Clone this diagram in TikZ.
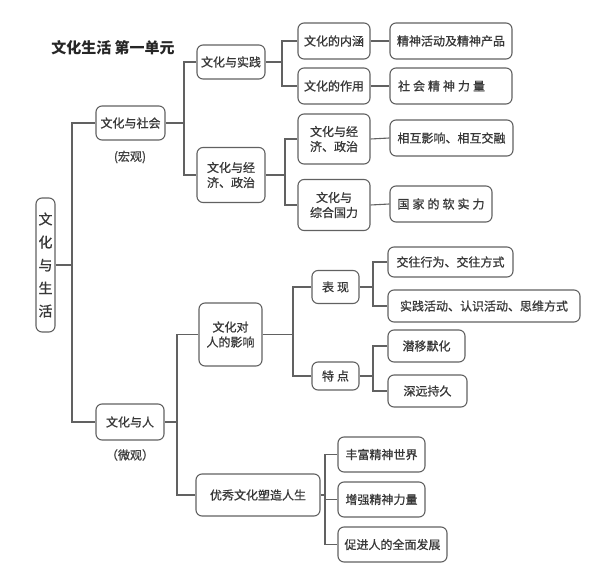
\documentclass[tikz,border=0pt]{standalone}
\usepackage{fontspec}
\setmainfont{Noto Sans CJK SC}
\newfontfamily\boxfont[FakeBold=0.9]{Noto Sans CJK SC}
\begin{document}
\begin{tikzpicture}[x=1pt,y=-1pt,
  box/.style={draw=black!62, line width=1.1pt, rounded corners=6pt, inner sep=2pt,
    text=black!78, font=\boxfont\fontsize{12}{15}\selectfont, align=center},
  link/.style={draw=black!62, line width=1.1pt},
  note/.style={text=black!75, font=\boxfont\fontsize{12}{14}\selectfont}]
\useasboundingbox (0,0) rectangle (600,580);
\node[font=\bfseries\fontsize{15}{17}\selectfont, text=black!85] (title) at (113,48) {文化生活 第一单元};
% root
\node[box, minimum width=19pt, minimum height=134pt, inner sep=0pt, font=\boxfont\fontsize{14}{23}\selectfont] (root) at (45.5,265) {文\\化\\与\\生\\活};
% level 1
\node[box, minimum width=69pt, minimum height=34pt] (s1) at (130.5,123) {文化与社会};
\node[note] (n1) at (130,157) {(宏观)};
\node[box, minimum width=68pt, minimum height=36pt] (s2) at (130,422) {文化与人};
\node[note] (n2) at (130,455) {（微观）};
% level 2 upper
\node[box, minimum width=68pt, minimum height=34pt] (a1) at (231,62) {文化与实践};
\node[box, minimum width=68pt, minimum height=55pt] (a2) at (231,175) {文化与经\\济、政治};
% level 3 upper
\node[box, minimum width=72pt, minimum height=36pt] (b1) at (334,41) {文化的内涵};
\node[box, minimum width=72pt, minimum height=36pt] (b2) at (334,86) {文化的作用};
\node[box, minimum width=72pt, minimum height=50pt] (b3) at (334,139) {文化与经\\济、政治};
\node[box, minimum width=72pt, minimum height=51pt] (b4) at (334,205) {文化与\\综合国力};
% level 4 upper
\node[box, minimum width=122pt, minimum height=36pt] (c1) at (451,41) {精神活动及精神产品};
\node[box, minimum width=122pt, minimum height=36pt, text width=110pt, inner sep=6pt, align=left] (c2) at (451,86) {\hspace{2pt}社\hspace{3pt}会\hspace{3pt}精\hspace{3pt}神\hspace{3pt}力\hspace{3pt}量};
\node[box, minimum width=123pt, minimum height=36pt] (d1) at (451.5,138) {相互影响、相互交融};
\node[box, minimum width=102pt, minimum height=36pt] (d2) at (441,204) {国\hspace{3pt}家\hspace{3pt}的\hspace{3pt}软\hspace{3pt}实\hspace{3pt}力};
% lower
\node[box, minimum width=63pt, minimum height=63pt] (e1) at (230.5,334.5) {文化对\\人的影响};
\node[box, minimum width=124pt, minimum height=42pt] (e2) at (258,495) {优秀文化塑造人生};
\node[box, minimum width=47pt, minimum height=33pt] (f1) at (335.5,287) {表\hspace{3pt}现};
\node[box, minimum width=47pt, minimum height=28pt] (f2) at (335.5,376) {特\hspace{3pt}点};
\node[box, minimum width=125pt, minimum height=30pt] (g1) at (450.5,262) {交往行为、交往方式};
\node[box, minimum width=192pt, minimum height=32pt] (g2) at (484,306) {实践活动、认识活动、思维方式};
\node[box, minimum width=77pt, minimum height=32pt] (g3) at (426.5,346) {潜移默化};
\node[box, minimum width=79pt, minimum height=32pt] (g4) at (427.5,391) {深远持久};
\node[box, minimum width=87pt, minimum height=35pt] (h1) at (381.5,454.5) {丰富精神世界};
\node[box, minimum width=87pt, minimum height=35pt] (h2) at (381.5,499.5) {增强精神力量};
\node[box, minimum width=109pt, minimum height=35pt] (h3) at (392.5,544.5) {促进人的全面发展};
% junctions
\coordinate (j0) at (72,0);
\coordinate (j1) at (184,0);
\coordinate (j2) at (282,0);
\coordinate (j3) at (285,0);
\coordinate (j4) at (177,0);
\coordinate (j5) at (293,0);
\coordinate (j6) at (373,0);
\coordinate (j8) at (325,0);
% connectors
\draw[link] (root.east) -- (root.east -| j0);
\draw[link] (s1.west) -- (s1.west -| j0) -- (s2.west -| j0) -- (s2.west);
\draw[link] (s1.east) -- (s1.east -| j1);
\draw[link] (a1.west) -- (a1.west -| j1) -- (a2.west -| j1) -- (a2.west);
\draw[link] (a1.east) -- (a1.east -| j2);
\draw[link] (b1.west) -- (b1.west -| j2) -- (b2.west -| j2) -- (b2.west);
\draw[link] (b1.east) -- (c1.west);
\draw[link] (b2.east) -- (c2.west);
\draw[link] (a2.east) -- (a2.east -| j3);
\draw[link] (b3.west) -- (b3.west -| j3) -- (b4.west -| j3) -- (b4.west);
\draw[link] (b3.east) -- (d1.west);
\draw[link] (b4.east) -- (d2.west);
\draw[link] (s2.east) -- (s2.east -| j4);
\draw[link] (e1.west) -- (e1.west -| j4) -- (e2.west -| j4) -- (e2.west);
\draw[link] (e1.east) -- (e1.east -| j5);
\draw[link] (f1.west) -- (f1.west -| j5) -- (f2.west -| j5) -- (f2.west);
\draw[link] (f1.east) -- (f1.east -| j6);
\draw[link] (g1.west) -- (g1.west -| j6) -- (g2.west -| j6) -- (g2.west);
\draw[link] (f2.east) -- (f2.east -| j6);
\draw[link] (g3.west) -- (g3.west -| j6) -- (g4.west -| j6) -- (g4.west);
\draw[link] (e2.east) -- (e2.east -| j8);
\draw[link] (h1.west) -- (h1.west -| j8) -- (h3.west -| j8) -- (h3.west);
\draw[link] (h2.west) -- (h2.west -| j8);
\end{tikzpicture}
\end{document}
